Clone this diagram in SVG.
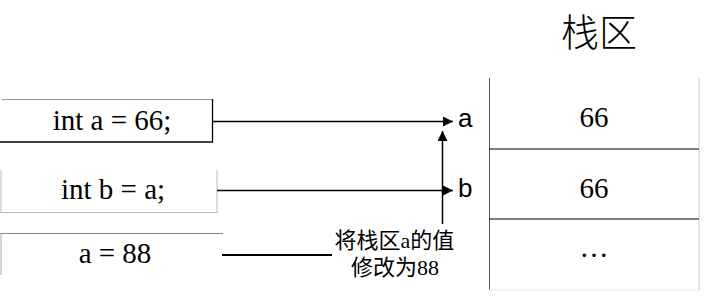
<svg xmlns="http://www.w3.org/2000/svg" width="706" height="299" viewBox="0 0 706 299">
<style>
.code{font-family:"Liberation Serif","Times New Roman",serif;font-size:29px;fill:#000;text-anchor:middle}
.lbl{font-family:"Liberation Sans",Arial,sans-serif;font-size:26px;fill:#000}
.cjk{font-family:"Liberation Serif","Noto Sans CJK SC",serif;font-size:22px;fill:#000;text-anchor:middle}
.title{font-family:"Noto Sans CJK SC",sans-serif;font-size:38px;font-weight:300;fill:#000;text-anchor:middle}
.conn{stroke:#000;stroke-width:1.5;fill:none}
</style>
<defs>
<marker id="ah" markerWidth="10" markerHeight="10" refX="10" refY="5" orient="auto" markerUnits="userSpaceOnUse">
<path d="M0,0 L10,5 L0,10 Z" fill="#000"/>
</marker>
</defs>
<rect width="706" height="299" fill="#fff"/>
<text class="title" x="599" y="46">栈区</text>
<g id="node-a66">
<line x1="2" y1="99.5" x2="212" y2="99.5" stroke="#999" stroke-width="1"/>
<line x1="212.5" y1="99" x2="212.5" y2="142.5" stroke="#000" stroke-width="1.3"/>
<line x1="0" y1="142" x2="213" y2="142" stroke="#000" stroke-width="1.3"/>
<text class="code" x="112" y="130">int a = 66;</text>
</g>
<g id="node-ba">
<line x1="1" y1="170" x2="1" y2="212.5" stroke="#bbb" stroke-width="1"/>
<line x1="217" y1="170" x2="217" y2="212.5" stroke="#bbb" stroke-width="1"/>
<line x1="0" y1="212.5" x2="217.5" y2="212.5" stroke="#bbb" stroke-width="1"/>
<text class="code" x="113" y="199">int b = a;</text>
</g>
<g id="node-a88">
<line x1="0" y1="233.5" x2="223" y2="233.5" stroke="#888" stroke-width="1"/>
<line x1="1" y1="233" x2="1" y2="275" stroke="#aaa" stroke-width="1"/>
<text class="code" x="115" y="263">a = 88</text>
</g>
<g id="stack">
<line x1="489.5" y1="78" x2="489.5" y2="290" stroke="#555" stroke-width="1"/>
<line x1="699" y1="78" x2="699" y2="290" stroke="#ccc" stroke-width="1"/>
<line x1="489" y1="290" x2="699" y2="290" stroke="#dde6ee" stroke-width="1"/>
<line x1="489" y1="149" x2="699" y2="149" stroke="#000" stroke-width="1.2"/>
<line x1="489" y1="219" x2="699" y2="219" stroke="#000" stroke-width="1.2"/>
<text class="code" x="594" y="127">66</text>
<text class="code" x="594" y="198">66</text>
<text class="code" x="594" y="257">…</text>
</g>
<g id="labels">
<text class="lbl" x="458" y="127">a</text>
<text class="lbl" x="458" y="197">b</text>
<text class="cjk" x="394.5" y="248">将栈区a的值</text>
<text class="cjk" x="395" y="275">修改为88</text>
</g>
<g id="connectors">
<line class="conn" x1="213" y1="121.5" x2="453" y2="121.5" marker-end="url(#ah)"/>
<line class="conn" x1="217" y1="190.5" x2="453" y2="190.5" marker-end="url(#ah)"/>
<line class="conn" x1="442.5" y1="224" x2="442.5" y2="131" marker-end="url(#ah)"/>
<line x1="222" y1="255" x2="332" y2="255" stroke="#000" stroke-width="2.2"/>
</g>
</svg>
